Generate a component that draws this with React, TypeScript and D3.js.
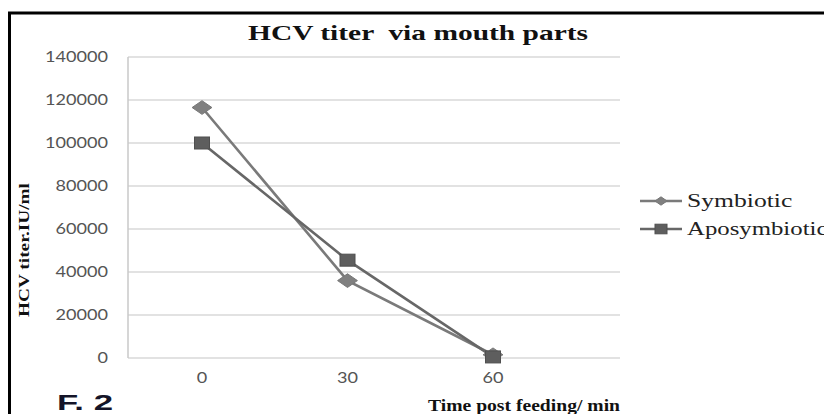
import { useRef, useEffect } from 'react';
import * as d3 from 'd3';

const times = [0, 30, 60];
const symbiotic = [116500, 36000, 1500];
const aposymbiotic = [100000, 45500, 500];
const yTicks = [0, 20000, 40000, 60000, 80000, 100000, 120000, 140000];

const W = 824;
const H = 414;

export default function App() {
  const svgRef = useRef<SVGSVGElement | null>(null);

  useEffect(() => {
    if (!svgRef.current) return;
    const svg = d3.select(svgRef.current);
    svg.selectAll('*').remove();

    const plot = { left: 128, right: 620, top: 57, bottom: 358 };

    const x = d3.scalePoint<number>().domain(times).range([202, 493]);
    const y = d3.scaleLinear().domain([0, 140000]).range([plot.bottom, plot.top]);

    svg.append('rect').attr('width', W).attr('height', H).attr('fill', '#fff');

    // frame (top + left)
    svg.append('line').attr('x1', 8).attr('x2', W).attr('y1', 13).attr('y2', 13)
      .attr('stroke', '#000').attr('stroke-width', 3);
    svg.append('line').attr('x1', 9.5).attr('x2', 9.5).attr('y1', 12).attr('y2', H)
      .attr('stroke', '#000').attr('stroke-width', 3);

    // gridlines
    svg.append('g').selectAll('line').data(yTicks).join('line')
      .attr('x1', plot.left).attr('x2', plot.right)
      .attr('y1', d => y(d)).attr('y2', d => y(d))
      .attr('stroke', '#d9d9d9').attr('stroke-width', 1.5);

    svg.append('line').attr('x1', plot.left).attr('x2', plot.left)
      .attr('y1', plot.top).attr('y2', plot.bottom)
      .attr('stroke', '#c8c8c8').attr('stroke-width', 1.5);

    // y tick labels
    svg.append('g').selectAll('text').data(yTicks).join('text')
      .attr('x', 108).attr('y', d => y(d) + 5)
      .attr('text-anchor', 'end')
      .attr('font-family', 'Lato, "Open Sans", sans-serif')
      .attr('font-size', 14.5)
      .attr('fill', '#555')
      .attr('textLength', d => String(d).length * 10.5)
      .attr('lengthAdjust', 'spacingAndGlyphs')
      .text(d => String(d));

    // x tick labels
    svg.append('g').selectAll('text').data(times).join('text')
      .attr('x', d => x(d)!).attr('y', 383)
      .attr('text-anchor', 'middle')
      .attr('font-family', 'Lato, "Open Sans", sans-serif')
      .attr('font-size', 14.5)
      .attr('fill', '#555')
      .attr('textLength', d => String(d).length * 10.5)
      .attr('lengthAdjust', 'spacingAndGlyphs')
      .text(d => String(d));

    // title
    svg.append('text').attr('x', 248).attr('y', 40)
      .attr('font-family', '"Liberation Serif", "Times New Roman", serif')
      .attr('font-weight', 'bold').attr('font-size', 21).attr('fill', '#111')
      .attr('textLength', 340).attr('lengthAdjust', 'spacingAndGlyphs')
      .attr('xml:space', 'preserve')
      .text('HCV titer  via mouth parts');

    // axis titles
    svg.append('text').attr('transform', 'translate(29,317) rotate(-90)')
      .attr('font-family', '"Liberation Serif", "Times New Roman", serif')
      .attr('font-weight', 'bold').attr('font-size', 15).attr('fill', '#111')
      .attr('textLength', 134).attr('lengthAdjust', 'spacingAndGlyphs')
      .text('HCV titer.IU/ml');

    svg.append('text').attr('x', 428).attr('y', 411)
      .attr('font-family', '"Liberation Serif", "Times New Roman", serif')
      .attr('font-weight', 'bold').attr('font-size', 16).attr('fill', '#111')
      .attr('textLength', 192).attr('lengthAdjust', 'spacingAndGlyphs')
      .text('Time post feeding/ min');

    svg.append('text').attr('x', 57).attr('y', 410)
      .attr('font-family', '"Liberation Sans", Arial, sans-serif')
      .attr('font-weight', 'bold').attr('font-size', 22).attr('fill', '#141428')
      .attr('textLength', 56).attr('lengthAdjust', 'spacingAndGlyphs')
      .text('F. 2');

    const line = d3.line<number>()
      .x((_, i) => x(times[i])!)
      .y(d => y(d));

    const series = [
      { name: 'Symbiotic', values: symbiotic, color: '#7a7a7a', marker: 'diamond' },
      { name: 'Aposymbiotic', values: aposymbiotic, color: '#676767', marker: 'square' },
    ];

    const drawMarker = (g: any, kind: string, cx: number, cy: number, s: number) => {
      if (kind === 'diamond') {
        g.append('path')
          .attr('d', `M${cx - s * 0.55},${cy} L${cx},${cy - s * 0.38} L${cx + s * 0.55},${cy} L${cx},${cy + s * 0.38} Z`)
          .attr('fill', '#808080').attr('stroke', '#777').attr('stroke-width', 1);
      } else {
        g.append('rect')
          .attr('x', cx - s * 0.5).attr('y', cy - s * 0.4)
          .attr('width', s).attr('height', s * 0.8)
          .attr('fill', '#5e5e5e').attr('stroke', '#4f4f4f').attr('stroke-width', 1);
      }
    };

    series.forEach(s => {
      const g = svg.append('g');
      g.append('path').datum(s.values)
        .attr('d', line)
        .attr('fill', 'none')
        .attr('stroke', s.color)
        .attr('stroke-width', 2.6);
      s.values.forEach((v, i) => drawMarker(g, s.marker, x(times[i])!, y(v), s.marker === 'diamond' ? 18 : 15));
    });

    // legend
    const legend = svg.append('g');
    series.forEach((s, i) => {
      const ly = 201 + i * 28;
      legend.append('line').attr('x1', 640).attr('x2', 682).attr('y1', ly).attr('y2', ly)
        .attr('stroke', s.color).attr('stroke-width', 2.6);
      drawMarker(legend, s.marker, 661, ly, s.marker === 'diamond' ? 11 : 12);
      legend.append('text').attr('x', 687).attr('y', ly + 6)
        .attr('font-family', '"Liberation Serif", "Times New Roman", serif')
        .attr('font-size', 19).attr('fill', '#222')
        .attr('textLength', s.name.length * 11.7).attr('lengthAdjust', 'spacingAndGlyphs')
        .text(s.name);
    });
  }, []);

  return (
    <svg
      ref={svgRef}
      width={W}
      height={H}
      style={{ position: 'absolute', left: 0, top: 0, display: 'block' }}
    />
  );
}
